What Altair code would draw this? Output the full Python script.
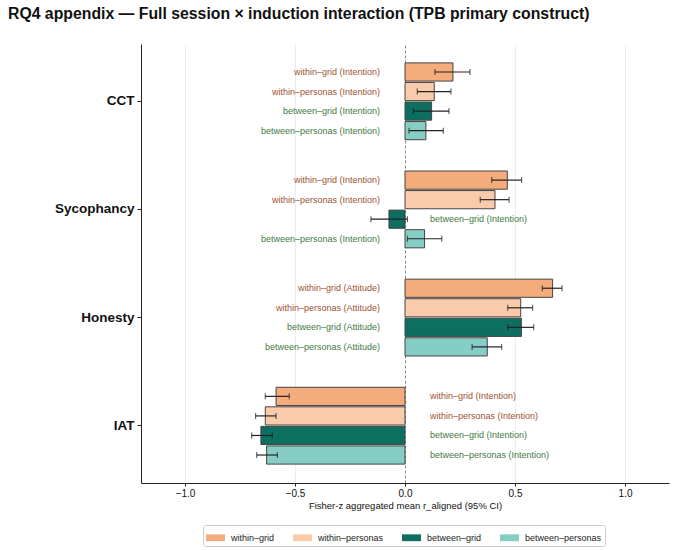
import altair as alt
import pandas as pd

constructs = ["CCT", "Sycophancy", "Honesty", "IAT"]
construct_measure = ["Intention", "Intention", "Attitude", "Intention"]
series = ["within–grid", "within–personas", "between–grid", "between–personas"]
families = ["within", "within", "between", "between"]
series_colors = ["#f4ac7d", "#f9cbab", "#0c6f60", "#86cdc5"]

# values per construct, in series order
means = {
    "CCT":        [0.218, 0.133, 0.121, 0.095],
    "Sycophancy": [0.465, 0.409, -0.073, 0.089],
    "Honesty":    [0.671, 0.526, 0.529, 0.374],
    "IAT":        [-0.586, -0.635, -0.655, -0.629],
}
ci_low = {
    "CCT":        [0.136, 0.056, 0.038, 0.018],
    "Sycophancy": [0.394, 0.342, -0.155, 0.011],
    "Honesty":    [0.624, 0.467, 0.467, 0.305],
    "IAT":        [-0.635, -0.679, -0.697, -0.674],
}
ci_high = {
    "CCT":        [0.295, 0.209, 0.200, 0.174],
    "Sycophancy": [0.530, 0.473, 0.011, 0.167],
    "Honesty":    [0.714, 0.580, 0.585, 0.439],
    "IAT":        [-0.526, -0.586, -0.603, -0.580],
}

rows = []
for c, meas in zip(constructs, construct_measure):
    for i, s in enumerate(series):
        rows.append({
            "construct": c,
            "series": s,
            "family": families[i],
            "value": means[c][i],
            "lo": ci_low[c][i],
            "hi": ci_high[c][i],
            "label": f"{s} ({meas})",
        })
df = pd.DataFrame(rows)

FONT = "Liberation Sans"

y_enc = alt.Y("construct:N", sort=constructs, title=None,
              scale=alt.Scale(paddingInner=0, paddingOuter=0.03),
              axis=alt.Axis(labelFontWeight="bold", labelFontSize=13.5, labelColor="#111",
                            labelFont=FONT, domainColor="#222", tickColor="#222",
                            tickSize=4, labelPadding=3, grid=False))
yoff = alt.YOffset("series:N", sort=series,
                   scale=alt.Scale(paddingInner=0.07, paddingOuter=0.8))
x_scale = alt.Scale(domain=[-1.2, 1.2], nice=False, zero=False)

base = alt.Chart(df)

bars = base.mark_bar(stroke="#444", strokeWidth=1).encode(
    x=alt.X("value:Q", scale=x_scale,
            title="Fisher-z aggregated mean r_aligned (95% CI)",
            axis=alt.Axis(values=[-1.0, -0.5, 0.0, 0.5, 1.0], format=".1f",
                          labelFontSize=10, labelFont=FONT, labelColor="#111",
                          titleFontSize=9.5, titleFont=FONT, titleFontWeight="normal",
                          titleColor="#111", titlePadding=2, labelPadding=2,
                          domainColor="#222", tickColor="#222", tickSize=3,
                          grid=True,
                          gridColor=alt.expr("datum.value == 0 ? '#888888' : '#e8e8e8'"),
                          gridDash=alt.expr("datum.value == 0 ? [3, 2] : []"),
                          gridWidth=alt.expr("datum.value == 0 ? 1 : 0.8"))),
    x2=alt.X2(datum=0),
    y=y_enc,
    yOffset=yoff,
    color=alt.Color("series:N", sort=series,
                    scale=alt.Scale(domain=series, range=series_colors),
                    legend=alt.Legend(title=None, orient="none", legendX=62, legendY=481,
                                      direction="horizontal", columns=4,
                                      columnPadding=18, labelOffset=6,
                                      symbolType="M-1,-0.36H1V0.36H-1Z",
                                      symbolSize=361, symbolStrokeWidth=0,
                                      labelFontSize=9, labelFont=FONT, labelColor="#222",
                                      strokeColor="#cccccc", padding=3, cornerRadius=2,
                                      fillColor="white")),
)

err = base.mark_rule(color="#222", strokeWidth=1.2).encode(
    x=alt.X("lo:Q", scale=x_scale), x2="hi:Q", y=alt.Y("construct:N", sort=constructs), yOffset=yoff,
)
cap_lo = base.mark_tick(color="#222", thickness=1.2, size=6).encode(
    x=alt.X("lo:Q", scale=x_scale), y=alt.Y("construct:N", sort=constructs), yOffset=yoff,
)
cap_hi = base.mark_tick(color="#222", thickness=1.2, size=6).encode(
    x=alt.X("hi:Q", scale=x_scale), y=alt.Y("construct:N", sort=constructs), yOffset=yoff,
)

label_color = alt.condition(alt.datum.family == "within", alt.value("#9e5233"), alt.value("#3f7a44"))

text_pos = base.transform_filter(alt.datum.value >= 0).mark_text(
    align="right", baseline="middle", dx=-25, fontSize=9, font=FONT
).encode(
    x=alt.X(datum=0, scale=x_scale), y=alt.Y("construct:N", sort=constructs), yOffset=yoff,
    text="label:N", color=label_color,
)
text_neg = base.transform_filter(alt.datum.value < 0).mark_text(
    align="left", baseline="middle", dx=25, fontSize=9, font=FONT
).encode(
    x=alt.X(datum=0, scale=x_scale), y=alt.Y("construct:N", sort=constructs), yOffset=yoff,
    text="label:N", color=label_color,
)

chart = alt.layer(bars, err, cap_lo, cap_hi, text_pos, text_neg).properties(
    width=528, height=439,
    autosize=alt.AutoSizeParams(type="none"),
    padding={"left": 141, "top": 44, "right": 6, "bottom": 67},
    title=alt.TitleParams(
        "RQ4 appendix — Full session × induction interaction (TPB primary construct)",
        anchor="start", frame="group", dx=-133, offset=9, fontSize=15.8, font=FONT,
        fontWeight="bold", color="#111", baseline="alphabetic",
    ),
).configure_view(stroke=None)

chart.save("out.html", embed_options={"renderer": "svg", "actions": False})
